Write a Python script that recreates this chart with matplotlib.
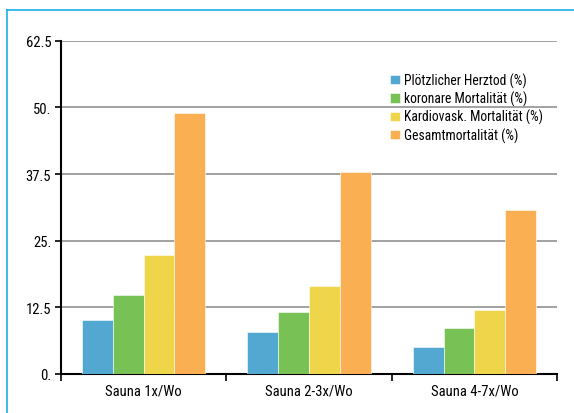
import numpy as np
import matplotlib.pyplot as plt
from matplotlib.lines import Line2D

plt.rcParams['font.family'] = ['Roboto Condensed', 'Archivo Narrow', 'PT Sans Narrow',
                               'Liberation Sans Narrow', 'DejaVu Sans']

categories = ['Sauna 1x/Wo', 'Sauna 2-3x/Wo', 'Sauna 4-7x/Wo']
series = ['Plötzlicher Herztod (%)', 'koronare Mortalität (%)',
          'Kardiovask. Mortalität (%)', 'Gesamtmortalität (%)']
herztod = [10.1, 7.9, 5.1]
koronar = [14.9, 11.6, 8.6]
kardio = [22.4, 16.5, 12.0]
gesamt = [49.0, 37.8, 30.75]
yticks = [0, 12.5, 25, 37.5, 50, 62.5]
ytick_labels = ['0.', '12.5', '25.', '37.5', '50.', '62.5']

colors = ['#52a8d0', '#78c155', '#eed54a', '#fab052']

fig = plt.figure(figsize=(5.74, 4.14), dpi=100)
ax = fig.add_axes([61 / 574, 1 - 375 / 414, 496 / 574, 333.3 / 414])

x = np.arange(len(categories))
w = 0.186
for i, vals in enumerate([herztod, koronar, kardio, gesamt]):
    ax.bar(x + (i - 1.5) * w, vals, w, color=colors[i], label=series[i],
           edgecolor='#ffffff', linewidth=0.4, zorder=3)

ax.set_xlim(-0.5, 2.5)
ax.set_ylim(0, 62.5)
ax.set_yticks(yticks)
ax.set_yticklabels(ytick_labels)
ax.set_xticks(x)
ax.set_xticklabels(categories)
ax.set_xticks([-0.5, 0.5, 1.5, 2.5], minor=True)
ax.tick_params(axis='x', which='major', length=0, pad=7, labelsize=10.5)
ax.tick_params(axis='x', which='minor', length=5, width=1.2, direction='out')
ax.tick_params(axis='y', length=4, width=1.2, pad=3, labelsize=10.5)
ax.yaxis.grid(True, color='#9a9a9a', linewidth=1.3, zorder=0)
ax.set_axisbelow(True)

for s in ['top', 'right']:
    ax.spines[s].set_visible(False)
ax.spines['left'].set_linewidth(1.5)
ax.spines['bottom'].set_linewidth(1.5)

ax.legend(loc='upper left', bbox_to_anchor=(0.653, 0.921), frameon=False,
          handlelength=0.7, handleheight=0.7, handletextpad=0.3,
          labelspacing=0.22, fontsize=9.8, borderaxespad=0)

# light blue frame (top and left)
fig.add_artist(Line2D([7 / 574, 7 / 574], [0, 1 - 11 / 414], color='#1ab0e8', lw=1.2))
fig.add_artist(Line2D([7 / 574, 1], [1 - 11 / 414, 1 - 11 / 414], color='#1ab0e8', lw=1.2))

fig.savefig('out.png', dpi=100)
